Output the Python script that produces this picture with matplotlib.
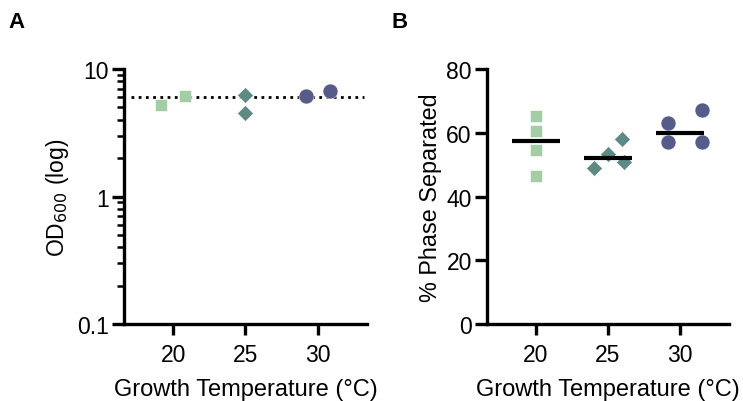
import numpy as np
import matplotlib
matplotlib.use("Agg")
import matplotlib.pyplot as plt
from matplotlib.ticker import FixedLocator, LogLocator, NullFormatter

# DATA

temps = [20, 25, 30]
tick_labels = ["20", "25", "30"]

# panel A - OD600 at harvest, x positions include the plot's jitter
od_x_20 = [19.17, 20.83]
od_y_20 = [5.2, 6.15]
od_x_25 = [25.0, 25.0]
od_y_25 = [6.2, 4.55]
od_x_30 = [29.17, 30.83]
od_y_30 = [6.15, 6.7]
od_target = 6.0

# panel B - % phase separated
ps_x_20 = [20.0, 20.0, 20.0, 20.0]
ps_y_20 = [65.4, 60.5, 54.5, 46.4]
ps_x_25 = [24.0, 25.0, 26.0, 26.1]
ps_y_25 = [48.8, 53.3, 58.0, 50.9]
ps_x_30 = [29.2, 31.5, 29.2, 31.5]
ps_y_30 = [63.1, 67.1, 57.0, 57.0]

# STYLE

plt.rcParams['font.family'] = ['Liberation Sans', 'DejaVu Sans']
green = "#a2cda5"
teal = "#5e8a85"
navy = "#575b88"
spine_w = 2.4

fig = plt.figure(figsize=(7.43, 4.02), dpi=100)
axA = fig.add_axes([0.1669, 0.1915, 0.327, 0.6344])
axB = fig.add_axes([0.6555, 0.1915, 0.3255, 0.6344])


def style_axis(ax):
    for s in ["top", "right"]:
        ax.spines[s].set_visible(False)
    for s in ["left", "bottom"]:
        ax.spines[s].set_linewidth(spine_w)
        ax.spines[s].set_capstyle("projecting")
    ax.tick_params(which="major", length=9, width=spine_w, labelsize=16.5, pad=2, color="black")
    ax.tick_params(axis="x", which="major", length=8, pad=6)
    ax.set_xlim(16.6, 33.4)
    ax.set_xticks(temps)
    ax.set_xticklabels(tick_labels)
    ax.set_xlabel("Growth Temperature (°C)", fontsize=17, labelpad=8)


# PANEL A

style_axis(axA)
axA.set_yscale("log")
axA.set_ylim(0.1, 10)
axA.yaxis.set_major_locator(FixedLocator([0.1, 1, 10]))
axA.set_yticklabels(["0.1", "1", "10"])
axA.yaxis.set_minor_locator(LogLocator(base=10, subs=np.arange(2, 10)))
axA.yaxis.set_minor_formatter(NullFormatter())
axA.tick_params(axis="y", which="minor", length=5, width=1.8)
axA.tick_params(axis="x", which="minor", length=0)

axA.hlines(od_target, 17.1, 33.2, colors="black", linestyles=(0, (1, 1.6)), linewidth=2.0, zorder=1)
axA.plot(od_x_20, od_y_20, "s", color=green, ms=9.0, mec="white", mew=0.4, zorder=3)
axA.plot(od_x_25, od_y_25, "D", color=teal, ms=8.4, mec="white", mew=0.4, zorder=3)
axA.plot(od_x_30, od_y_30, "o", color=navy, ms=10.8, mec="white", mew=0.4, zorder=3)
axA.set_ylabel("OD$_{600}$ (log)", fontsize=16.5, labelpad=4)

# PANEL B

style_axis(axB)
axB.set_ylim(0, 80)
axB.set_yticks([0, 20, 40, 60, 80])

for xs, ys, mk, c, ms in [(ps_x_20, ps_y_20, "s", green, 9.2),
                          (ps_x_25, ps_y_25, "D", teal, 8.6),
                          (ps_x_30, ps_y_30, "o", navy, 10.8)]:
    axB.plot(xs, ys, mk, color=c, ms=ms, mec="white", mew=0.4, zorder=2)

# median lines
for t, ys in zip(temps, [ps_y_20, ps_y_25, ps_y_30]):
    med = np.median(ys)
    axB.hlines(med, t - 1.68, t + 1.68, colors="black", linewidth=3.0, zorder=3)

axB.set_ylabel("% Phase Separated", fontsize=16.8, labelpad=3)

# PANEL LETTERS

fig.text(0.012, 0.945, "A", fontsize=16, fontweight="bold", va="center")
fig.text(0.527, 0.945, "B", fontsize=16, fontweight="bold", va="center")

fig.savefig("out.png", dpi=100)
